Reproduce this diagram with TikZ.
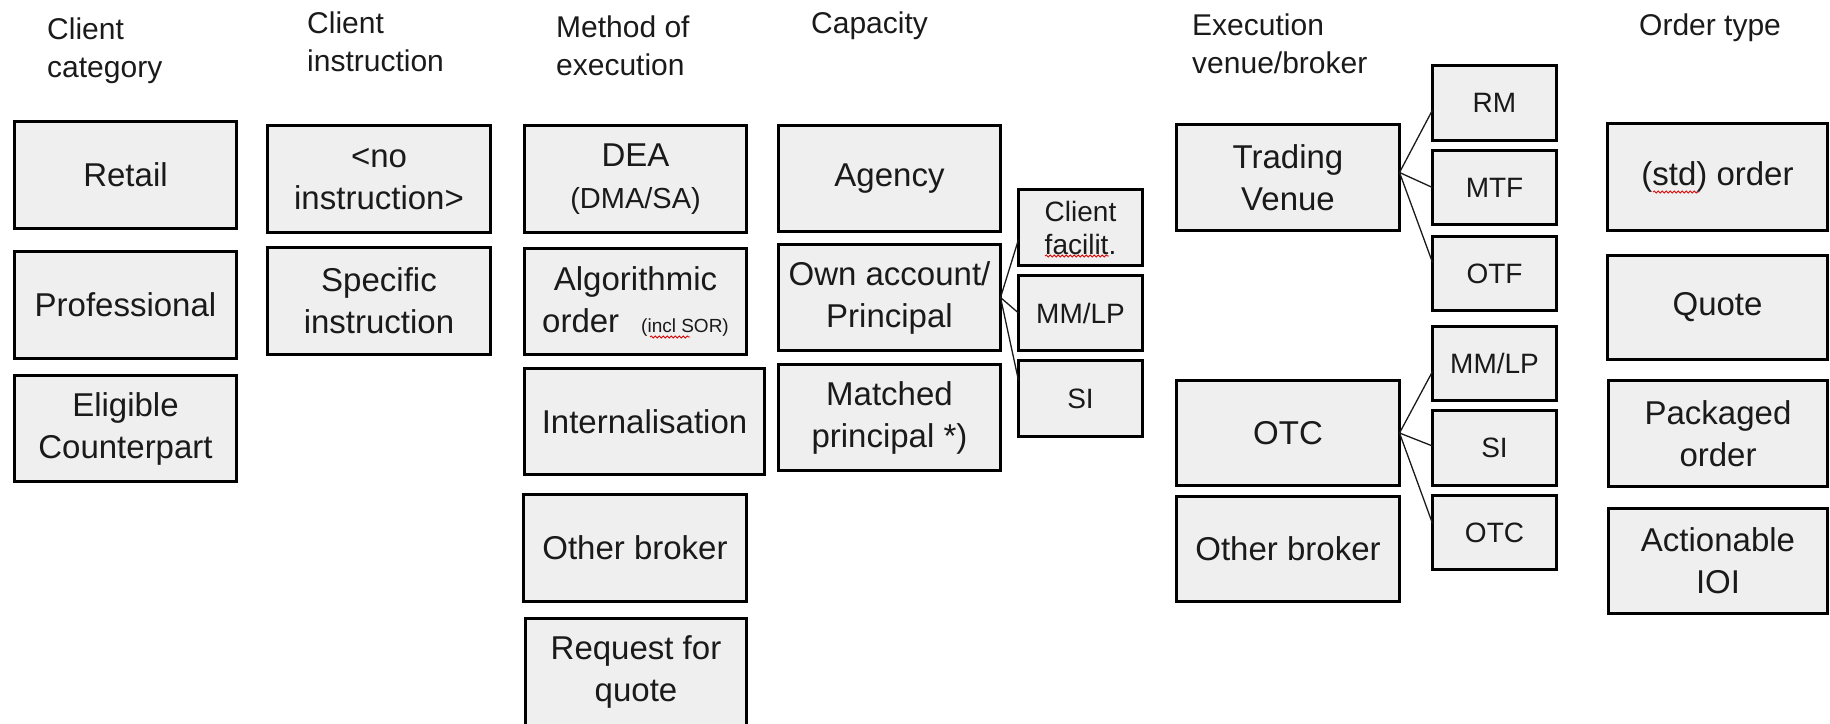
\documentclass[tikz,border=0pt]{standalone}
\usepackage{fontspec}
\setmainfont{Liberation Sans}
\usetikzlibrary{calc,decorations.pathmorphing}
\definecolor{boxfill}{HTML}{EFEFEF}
\definecolor{ink}{HTML}{1A1A1A}
\begin{document}
\begin{tikzpicture}[x=1pt,y=-1pt,
  box/.style={draw=black, line width=3pt, fill=boxfill, text=ink, inner sep=0pt,
    outer sep=0pt, align=center, font=\fontsize{33}{42}\selectfont},
  col/.style={box, minimum width=222pt, minimum height=106pt},
  sub/.style={box, font=\fontsize{28}{33}\selectfont, minimum width=124pt, minimum height=75pt},
  head/.style={anchor=base west, align=left, text=ink, inner sep=0pt,
    font=\fontsize{30}{38}\selectfont},
  link/.style={draw=ink, line width=1.3pt},
  spell/.style={draw=red!85!black, line width=0.8pt, decorate,
    decoration={snake, segment length=4pt, amplitude=1.1pt}}
]
\useasboundingbox (0,0) rectangle (1830,723);
\clip (0,0) rectangle (1830,723);

% column headings (anchored at the baseline of their last line)
\node[head] (hcat)  at (47,77)   {Client\\category};
\node[head] (hins)  at (307,71)  {Client\\instruction};
\node[head] (hmeth) at (556,75)  {Method of\\execution};
\node[head] (hcap)  at (811,33)  {Capacity};
\node[head] (hven)  at (1192,73) {Execution\\venue/broker};
\node[head] (hord)  at (1639,35) {Order type};

% client category
\node[col, minimum height=107pt] (retail) at (125.5,175)   {Retail};
\node[col, minimum height=107pt] (prof)   at (125.5,305)   {Professional};
\node[col]                       (elig)   at (125.5,428.5) {Eligible\\Counterpart};

% client instruction
\node[col, minimum width=223pt, minimum height=107pt] (noinst) at (379,179) {<no\\instruction>};
\node[col, minimum width=223pt, minimum height=107pt] (spec)   at (379,301) {Specific\\instruction};

% method of execution
\node[col, minimum height=107pt] (dea)    at (635.5,179)   {DEA\\{\fontsize{29}{34}\selectfont(DMA/SA)}};
\node[col]                       (algo)   at (635.5,301.5) {Algorithmic\\order\hspace{22pt}{\fontsize{19}{19}\selectfont(incl SOR)}};
\node[col, minimum width=240pt]  (intern) at (644.5,421.5) {Internalisation};
\node[col, minimum width=223pt, minimum height=107pt] (oth) at (635,548) {Other broker};
\node[col, minimum width=221pt, minimum height=107pt] (rfq) at (636,672) {Request for\\quote};

% capacity
\node[col] (agency)  at (889.5,178.5) {Agency};
\node[col] (own)     at (889.5,297.5) {Own account/\\Principal};
\node[col] (matched) at (889.5,417.5) {Matched\\principal *)};

\node[sub, minimum height=76pt] (cf)    at (1080.5,227.5) {Client\\facilit.};
\node[sub]                      (mmlpa) at (1080.5,313)   {MM/LP};
\node[sub, minimum height=76pt] (sia)   at (1080.5,398.5) {SI};

% execution venue / broker
\node[col, minimum width=223pt] (tv)  at (1288,177.5) {Trading\\Venue};
\node[col, minimum width=223pt, minimum height=105pt] (otc) at (1288,433) {OTC};
\node[col, minimum width=223pt, minimum height=105pt] (obr) at (1288,549) {Other broker};

\node[sub]                      (rm)    at (1494.5,103)   {RM};
\node[sub, minimum height=74pt] (mtf)   at (1494.5,187.5) {MTF};
\node[sub, minimum height=74pt] (otf)   at (1494.5,273.5) {OTF};
\node[sub, minimum height=74pt] (mmlpb) at (1494.5,363.5) {MM/LP};
\node[sub]                      (sib)   at (1494.5,448)   {SI};
\node[sub, minimum height=74pt] (otcb)  at (1494.5,532.5) {OTC};

% order type
\node[col, minimum width=220pt, minimum height=107pt] (std)   at (1717.5,177)   {(std) order};
\node[col, minimum width=220pt, minimum height=104pt] (quote) at (1717.5,307.5) {Quote};
\node[col, minimum width=219pt, minimum height=106pt] (pack)  at (1718,433.5)   {Packaged\\order};
\node[col, minimum width=219pt, minimum height=105pt] (act)   at (1718,561)     {Actionable\\IOI};

% fan-out connectors
\draw[link] (own.east) -- ($(cf.west)+(0,12)$);
\draw[link] (own.east) -- (mmlpa.west);
\draw[link] (own.east) -- ($(sia.west)+(0,-18)$);

\draw[link] ($(tv.east)+(0,-5)$) -- ($(rm.west)+(0,7)$);
\draw[link] ($(tv.east)+(0,-5)$) -- (mtf.west);
\draw[link] ($(tv.east)+(0,-5)$) -- ($(otf.west)+(0,-11)$);

\draw[link] (otc.east) -- ($(mmlpb.west)+(0,8)$);
\draw[link] (otc.east) -- ($(sib.west)+(0,-2)$);
\draw[link] (otc.east) -- ($(otcb.west)+(0,-9)$);

% spell-check underlines
\draw[spell] (1045,256) -- (1109,256);
\draw[spell] (650,337) -- (690,337);
\draw[spell] (1653,192) -- (1699,192);
\end{tikzpicture}
\end{document}
